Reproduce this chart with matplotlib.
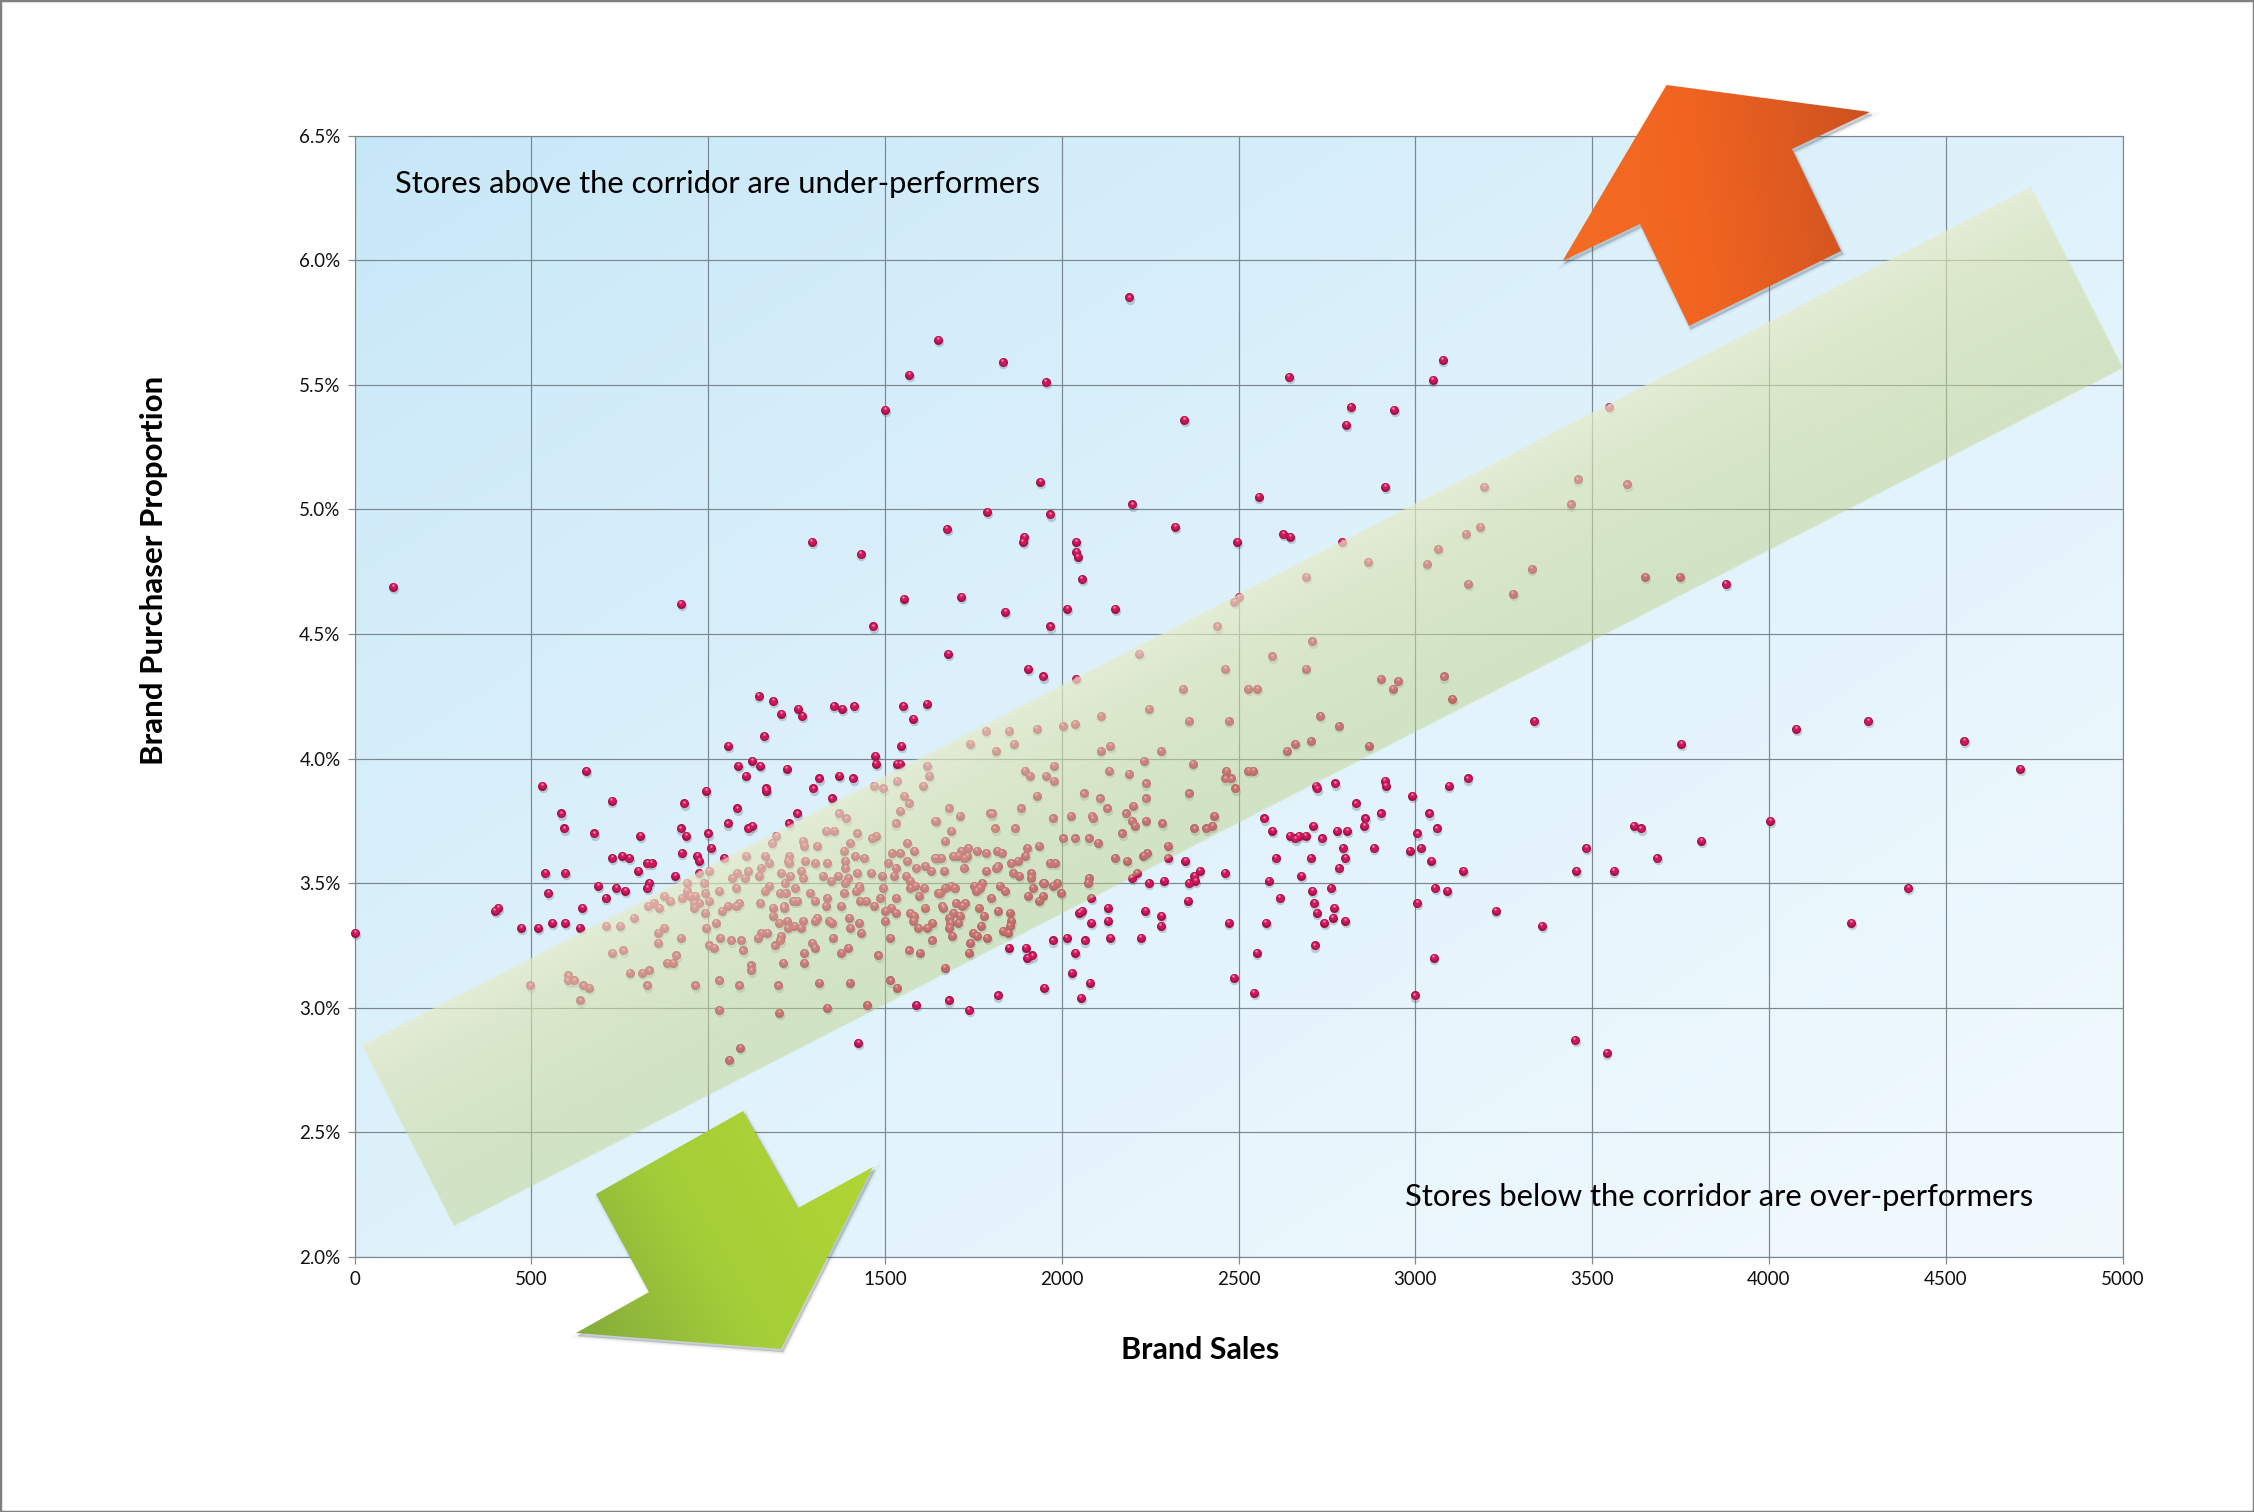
import numpy as np
import matplotlib
matplotlib.use("Agg")
import matplotlib.pyplot as plt
from matplotlib.patches import Polygon, Rectangle
from matplotlib.transforms import ScaledTranslation
from matplotlib.ticker import FuncFormatter, FixedLocator

# ---------- data: (brand sales, purchaser proportion %) ----------
stores_high = [(110,4.69),(923,4.62),(1293,4.87),(1431,4.82),(1467,4.53),(1500,5.40),(1569,5.54),(1553,4.64),(1650,5.68),
 (1675,4.92),(1679,4.42),(1715,4.65),(1789,4.99),(1833,5.59),(1841,4.59),(1890,4.87),(1894,4.89),(1955,5.51),(1939,5.11),
 (1967,4.98),(1967,4.53),(1906,4.36),(1947,4.33),(2016,4.60),(2041,4.83),(2041,4.87),(2045,4.81),(2057,4.72),(2150,4.60),
 (2191,5.85),(2199,5.02),(2321,4.93),(2346,5.36),(2496,4.87),(2557,5.05),(2626,4.90),(2646,4.89),(2642,5.53),(2793,4.87),
 (2805,5.34),(2817,5.41),(2939,5.40),(2915,5.09),(3049,5.52),(3077,5.60),(3549,5.41),(3459,5.12),(3439,5.02),(3598,5.10),
 (3195,5.09),(3142,4.90),(3183,4.93),(2488,4.63),(2500,4.65),(2691,4.73),(2866,4.79),(3065,4.84),(3032,4.78),(3150,4.70),
 (3276,4.66),(3329,4.76),(3650,4.73),(3748,4.73),(3878,4.70),(2439,4.53),(2220,4.42),(2041,4.32)]
stores_left_above = [(1143,4.25),(1184,4.23),(1207,4.18),(1255,4.20),(1266,4.17),(1355,4.21),(1380,4.20),(1413,4.21),(1552,4.21),
 (1618,4.22),(1580,4.16),(1159,4.09),(1057,4.05),(1473,4.01),(1474,3.98),(1546,4.05),(1533,3.98),(1544,3.98),(1085,3.97),
 (1125,3.99),(1148,3.97),(1222,3.96),(1106,3.93),(1315,3.92),(1371,3.93),(1409,3.92),(1163,3.88),(1164,3.87),(1298,3.88),
 (1350,3.84),(656,3.95),(531,3.89),(727,3.83),(584,3.78),(593,3.72),(678,3.70),(808,3.69),(933,3.82),(995,3.87),(922,3.72),
 (938,3.69),(1001,3.70),(1083,3.80),(1055,3.74),(1113,3.72),(1125,3.73),(1252,3.78),(1228,3.74),(1008,3.64),(925,3.62),
 (969,3.61),(975,3.59),(1045,3.60),(728,3.60),(757,3.61),(777,3.60),(828,3.58),(840,3.58),(803,3.55),(907,3.53),(540,3.54),
 (596,3.54),(547,3.46),(689,3.49),(740,3.48),(766,3.47),(834,3.50),(828,3.48),(710,3.44),(644,3.40),(397,3.39),(406,3.40),
 (472,3.32),(519,3.32),(559,3.34),(596,3.34),(637,3.32),(2,3.30),(1589,3.01),(1425,2.86)]
stores_corridor_left = [(1620,3.97),(1625,3.93),(1533,3.91),(1609,3.89),(1469,3.89),(1495,3.88),(1554,3.85),(1567,3.82),(1544,3.79),
 (1530,3.74),(1641,3.75),(1369,3.78),(1390,3.76),(1334,3.71),(1357,3.71),(1422,3.70),(1463,3.68),(1476,3.69),(1563,3.66),
 (1192,3.69),(1181,3.66),(1268,3.67),(1271,3.65),(1308,3.65),(1402,3.66),(1383,3.63),(1519,3.62),(1544,3.62),(1583,3.63),
 (1563,3.59),(1107,3.61),(1162,3.61),(1229,3.61),(1225,3.59),(1275,3.59),(1416,3.61),(1442,3.60),(1387,3.59),(1173,3.58),
 (1149,3.56),(1229,3.58),(1303,3.58),(1337,3.58),(1387,3.56),(1509,3.58),(1531,3.56),(1614,3.57),(1641,3.60),(1588,3.56),
 (1631,3.55),(1002,3.55),(974,3.54),(1081,3.54),(1113,3.55),(1144,3.53),(1264,3.55),(1207,3.54),(1232,3.53),(1269,3.52),
 (1324,3.53),(1368,3.53),(1348,3.51),(1396,3.52),(1422,3.54),(1462,3.54),(1492,3.53),(1525,3.53),(1560,3.53),(1571,3.51),
 (1069,3.52),(1103,3.52),(1080,3.48),(940,3.50),(987,3.50),(1173,3.49),(1217,3.50),(1387,3.50),(1427,3.49),(1495,3.48),
 (1571,3.48),(1585,3.49),(1611,3.48),(1651,3.46),(876,3.45),(939,3.47),(949,3.45),(963,3.45),(992,3.46),(1031,3.47),
 (1002,3.43),(1160,3.47),(1203,3.46),(1219,3.46),(1246,3.48),(1288,3.46),(1385,3.46),(1426,3.48),(1417,3.47),(1487,3.44),
 (1596,3.45),(1532,3.44),(831,3.41),(846,3.42),(862,3.40),(892,3.43),(925,3.44),(960,3.42),(974,3.42),(960,3.40),(992,3.38),
 (1038,3.39),(1055,3.41),(1080,3.41),(1088,3.42),(1148,3.42),(1183,3.40),(1214,3.41),(1214,3.40),(1241,3.43),(1252,3.43),
 (1301,3.43),(1336,3.44),(1333,3.41),(1376,3.41),(1430,3.43),(1447,3.43),(1470,3.41),(1517,3.40),(1530,3.38),(1501,3.39),
 (1571,3.38),(1582,3.37),(1612,3.40),(711,3.33),(751,3.33),(790,3.36),(876,3.32),(859,3.30),(922,3.28),(859,3.26),(995,3.32),
 (1021,3.34),(1034,3.28),(1065,3.27),(1093,3.27),(1140,3.28),(1151,3.30),(1167,3.30),(1183,3.37),(1201,3.34),(1223,3.35),
 (1225,3.32),(1244,3.33),(1262,3.32),(1269,3.35),(1301,3.35),(1309,3.36),(1342,3.35),(1350,3.34),(1399,3.36),(1427,3.34),
 (1402,3.32),(1433,3.30),(1501,3.35),(1515,3.28),(1580,3.35),(1594,3.32),(1619,3.32),(1634,3.34),(1352,3.28),(1295,3.26),
 (1205,3.29),(1188,3.25),(1203,3.27),(1301,3.24),(1396,3.24),(1632,3.27),(728,3.22),(760,3.23),(909,3.21),(884,3.18),
 (901,3.18),(1003,3.25),(1017,3.24),(1098,3.23),(1271,3.22),(1376,3.22),(1481,3.21),(1567,3.23),(1598,3.22),(1213,3.18),
 (1272,3.18),(1121,3.17),(1122,3.15),(778,3.14),(814,3.14),(833,3.15),(605,3.13),(621,3.11),(603,3.11),(647,3.09),(664,3.08),
 (497,3.09),(638,3.03),(828,3.09),(964,3.09),(1032,3.11),(1088,3.09),(1199,3.09),(1315,3.10),(1400,3.10),(1515,3.11),
 (1533,3.08),(1032,2.99),(1201,2.98),(1336,3.00),(1450,3.01),(1091,2.84),(1060,2.79)]
stores_corridor_right = [(2709,4.47),(2596,4.41),(2463,4.36),(2690,4.36),(2902,4.32),(2952,4.31),(2936,4.28),(3080,4.33),(3105,4.24),
 (2342,4.28),(2528,4.28),(2553,4.28),(2246,4.20),(2110,4.17),(2359,4.15),(2472,4.15),(2731,4.17),(2783,4.13),(2003,4.13),
 (2037,4.14),(1929,4.12),(1850,4.11),(1785,4.11),(1741,4.06),(1864,4.06),(1813,4.03),(2661,4.06),(2704,4.07),(2636,4.03),
 (2868,4.05),(2110,4.03),(2137,4.05),(2280,4.03),(2232,3.99),(2370,3.98),(1977,3.97),(1895,3.95),(1909,3.93),(1955,3.93),
 (1977,3.91),(2135,3.95),(2189,3.94),(2237,3.90),(2466,3.95),(2462,3.92),(2480,3.92),(2490,3.88),(2528,3.95),(2541,3.95),
 (2359,3.86),(1929,3.85),(2062,3.86),(2107,3.84),(2237,3.84),(2128,3.80),(2203,3.81),(2181,3.78),(1884,3.80),(1680,3.80),
 (1711,3.77),(1798,3.78),(1804,3.78),(1644,3.75),(1974,3.76),(2025,3.77),(2085,3.77),(2088,3.76),(2237,3.75),(2198,3.75),
 (2206,3.73),(2285,3.74),(2431,3.77),(2425,3.73),(2409,3.72),(2375,3.72),(1688,3.71),(1811,3.72),(1867,3.72),(2170,3.70),
 (2005,3.68),(2037,3.68),(2076,3.68),(2102,3.66),(1669,3.67),(1935,3.65),(2300,3.65),(1902,3.64),(1715,3.63),(1736,3.64),
 (1760,3.63),(1786,3.62),(1817,3.63),(1830,3.62),(1897,3.61),(1693,3.61),(1708,3.61),(1733,3.61),(1725,3.60),(1645,3.60),
 (1660,3.60),(2150,3.60),(2184,3.59),(2230,3.61),(2242,3.62),(1858,3.58),(1876,3.59),(1966,3.58),(1981,3.58),(1723,3.56),
 (1667,3.55),(1787,3.55),(1814,3.56),(1819,3.57),(1863,3.54),(1880,3.53),(1913,3.54),(1912,3.52),(1948,3.50),(1950,3.50),
 (2076,3.52),(2074,3.50),(1988,3.50),(1975,3.49),(1918,3.48),(1825,3.49),(1839,3.47),(1776,3.50),(1752,3.49),(1768,3.48),
 (1759,3.47),(1686,3.49),(1697,3.48),(1669,3.48),(1655,3.46),(1998,3.46),(1904,3.45),(1946,3.45),(1935,3.43),(1801,3.44),
 (1700,3.42),(1727,3.42),(1719,3.41),(1662,3.41),(1665,3.40),(1765,3.40),(1819,3.39),(1853,3.38),(1779,3.37),(1694,3.38),
 (1712,3.37),(1682,3.36),(1858,3.35),(1771,3.33),(1708,3.34),(1684,3.34),(1682,3.32),(1853,3.33),(1833,3.31),(1849,3.30),
 (1690,3.29),(1749,3.30),(1760,3.29),(1788,3.28),(1742,3.26),(1737,3.22),(1669,3.16)]
stores_low_right = [(1850,3.24),(1898,3.24),(1916,3.21),(1902,3.20),(1974,3.27),(2014,3.28),(2065,3.27),(2138,3.28),(2223,3.28),
 (2039,3.22),(2028,3.14),(2079,3.10),(2054,3.04),(1951,3.08),(1819,3.05),(1737,2.99),(1680,3.03),(2084,3.34),(2049,3.38),
 (2056,3.39),(2084,3.44),(2130,3.40),(2130,3.35),(2236,3.39),(2282,3.37),(2280,3.33),(2198,3.52),(2212,3.54),(2246,3.50),
 (2288,3.51),(2300,3.60),(2349,3.59),(2359,3.50),(2356,3.43),(2374,3.53),(2378,3.51),(2390,3.55),(2461,3.54),(2472,3.34),
 (2486,3.12),(2551,3.22),(2543,3.06),(2577,3.34),(2616,3.44),(2585,3.51),(2605,3.60),(2573,3.76),(2596,3.71),(2645,3.69),
 (2661,3.68),(2670,3.69),(2690,3.69),(2712,3.73),(2735,3.68),(2718,3.89),(2723,3.88),(2774,3.90),(2831,3.82),(2778,3.71),
 (2808,3.71),(2856,3.73),(2859,3.76),(2902,3.78),(2913,3.91),(2916,3.89),(2992,3.85),(3094,3.89),(3148,3.92),(3040,3.78),
 (3060,3.72),(3006,3.70),(2984,3.63),(3015,3.64),(3045,3.59),(3136,3.55),(2882,3.64),(2795,3.64),(2802,3.60),(2704,3.60),
 (2783,3.56),(2677,3.53),(2761,3.48),(2709,3.47),(2714,3.42),(2771,3.40),(2721,3.38),(2743,3.34),(2766,3.36),(2802,3.35),
 (2715,3.25),(3055,3.48),(3091,3.47),(3006,3.42),(3052,3.20),(2998,3.05),(3227,3.39)]
stores_far_right = [(3337,4.15),(3752,4.06),(4077,4.12),(4280,4.15),(4553,4.07),(4711,3.96),(4004,3.75),(3618,3.73),(3638,3.72),
 (3809,3.67),(3683,3.60),(3484,3.64),(3455,3.55),(3561,3.55),(3358,3.33),(4232,3.34),(4394,3.48),(3451,2.87),(3541,2.82)]

x_ticks = [0,500,1000,1500,2000,2500,3000,3500,4000,4500,5000]
y_ticks = [2.0,2.5,3.0,3.5,4.0,4.5,5.0,5.5,6.0,6.5]
title_x = "Brand Sales"
title_y = "Brand Purchaser Proportion"
note_above = "Stores above the corridor are under-performers"
note_below = "Stores below the corridor are over-performers"

all_pts = np.array(stores_high + stores_left_above + stores_corridor_left + stores_corridor_right + stores_low_right + stores_far_right)
sales, prop = all_pts[:, 0], all_pts[:, 1]

# ---------- layout (figure pixels) ----------
W, H = 2254, 1512
L, R, T, B = 354.5, 2122.5, 135.5, 1257
FONT = "Lato"
GRID = "#7C868E"
plt.rcParams["font.family"] = [FONT, "DejaVu Sans"]

fig = plt.figure(figsize=(W/100, H/100), dpi=100, facecolor="white")
ax = fig.add_axes([L/W, 1-B/H, (R-L)/W, (B-T)/H])
ax.set_xlim(0, 5000)
ax.set_ylim(2.0, 6.5)

# plot-area gradient (darker top-left, lighter bottom-right)
gy, gx = np.mgrid[0:1:200j, 0:1:300j]
g = np.clip(0.5*gx + 0.5*gy, 0, 1)[..., None]**0.8
c0 = np.array([198, 231, 248])/255
c1 = np.array([242, 250, 254])/255
ax.imshow(c0 + (c1-c0)*g, extent=(0, 5000, 2.0, 6.5), origin="upper", aspect="auto", zorder=0, interpolation="bilinear")
ax.set_xlim(0, 5000)
ax.set_ylim(2.0, 6.5)

ax.xaxis.set_major_locator(FixedLocator(x_ticks))
ax.yaxis.set_major_locator(FixedLocator(y_ticks))
ax.yaxis.set_major_formatter(FuncFormatter(lambda v, p: f"{v:.1f}%"))
ax.grid(True, color=GRID, lw=0.85, zorder=1)
ax.set_axisbelow(True)
for s in ax.spines.values():
    s.set_color(GRID); s.set_linewidth(0.85)
ax.tick_params(length=5, width=0.85, color=GRID, labelsize=13.5, labelcolor="#111111", pad=5)

# markers: shadow, sphere body, highlight
def shifted(dx, dy):
    return ax.transData + ScaledTranslation(dx/100, dy/100, fig.dpi_scale_trans)
ax.scatter(sales, prop, s=46, color="#40506a", alpha=0.25, lw=0, transform=shifted(0.8, -2.2), zorder=3, clip_on=False)
ax.scatter(sales, prop, s=42, color="#A00D45", lw=0, zorder=4, clip_on=False)
ax.scatter(sales, prop, s=24, color="#CF175B", lw=0, transform=shifted(0, 0.6), zorder=5, clip_on=False)
ax.scatter(sales, prop, s=3, color="#F08AB0", lw=0, transform=shifted(-0.4, 1.8), zorder=6, clip_on=False)

# overlay in pixel coordinates
ov = fig.add_axes([0, 0, 1, 1], zorder=2)
ov.patch.set_alpha(0)
ov.axis("off")

# corridor band
A = np.array([362., 1045.]); U = np.array([1669., -858.]); V = np.array([92., 181.])
py, px = np.mgrid[0:H, 0:W]
dxp, dyp = px+0.5-A[0], py+0.5-A[1]
det = U[0]*V[1]-U[1]*V[0]
su = (dxp*V[1]-dyp*V[0])/det
tv = (U[0]*dyp-U[1]*dxp)/det
lenU, lenV = np.hypot(*U), np.hypot(*V)
edge = np.minimum.reduce([su*lenU, (1-su)*lenU, tv*lenV, (1-tv)*lenV])
mask = np.clip(edge/2.0+0.5, 0, 1)
tc = np.clip(tv, 0, 1)[..., None]
ctop = np.array([231, 236, 200, 0.72*255])/255
cbot = np.array([191, 209, 132, 0.45*255])/255
band = ctop + (cbot-ctop)*tc**0.8
band[..., 3] *= mask
ov.imshow(band, extent=(0, W, H, 0), aspect="auto", interpolation="nearest", zorder=1)

def arrow(pts, stops, p0, p1, z):
    pts = np.array(pts, float)
    for grow, a in [(4, 0.05), (2, 0.08), (0.5, 0.12)]:
        ov.add_patch(Polygon(pts+[2, 3], closed=True, fc="#45525f", ec="#45525f", lw=grow, alpha=a, zorder=z, joinstyle="miter"))
    x0, x1 = int(pts[:, 0].min())-2, int(pts[:, 0].max())+3
    y0, y1 = int(pts[:, 1].min())-2, int(pts[:, 1].max())+3
    yy, xx = np.mgrid[y0:y1, x0:x1]
    d = np.array(p1, float)-np.array(p0, float)
    t = np.clip(((xx-p0[0])*d[0]+(yy-p0[1])*d[1])/(d@d), 0, 1)
    pos = [q[0] for q in stops]
    img = np.dstack([np.interp(t, pos, [q[1][k]/255 for q in stops]) for k in range(3)])
    im = ov.imshow(img, extent=(x0, x1, y1, y0), aspect="auto", interpolation="bilinear", zorder=z+1)
    clip = Polygon(pts, closed=True, transform=ov.transData, fc="none", ec="none")
    ov.add_patch(clip)
    im.set_clip_path(clip)

arrow([(1666.5,85),(1870,112),(1792,149),(1841,251),(1689,326),(1640,224),(1562.5,261)],
      [(0, (244,108,36)), (0.45, (241,100,32)), (1, (206,82,32))], (1562, 230), (1870, 190), 3)
arrow([(743,1111),(798,1208),(873,1167),(781,1349),(576,1333),(649,1292),(596,1194)],
      [(0, (135,174,60)), (0.45, (164,206,56)), (1, (176,212,52))], (590, 1330), (860, 1180), 6)
ov.set_xlim(0, W)
ov.set_ylim(H, 0)

# text
fig.text(1200/W, 1-1350/H, title_x, ha="center", va="center", fontsize=22, fontweight="bold", color="black", zorder=5)
fig.text(154/W, 1-570/H, title_y, ha="center", va="center", rotation=90, fontsize=22.5, fontweight="bold", color="black", zorder=5)
fig.text(395/W, 1-184/H, note_above, ha="left", va="center", fontsize=22.2, color="black", zorder=5)
fig.text(1405/W, 1-1197/H, note_below, ha="left", va="center", fontsize=22.3, color="black", zorder=5)

# outer frame
fig.add_artist(Rectangle((0, 0), 1, 1, transform=fig.transFigure, fc="none", ec="#808080", lw=2.5, zorder=6))

fig.savefig("out.png", dpi=100)
